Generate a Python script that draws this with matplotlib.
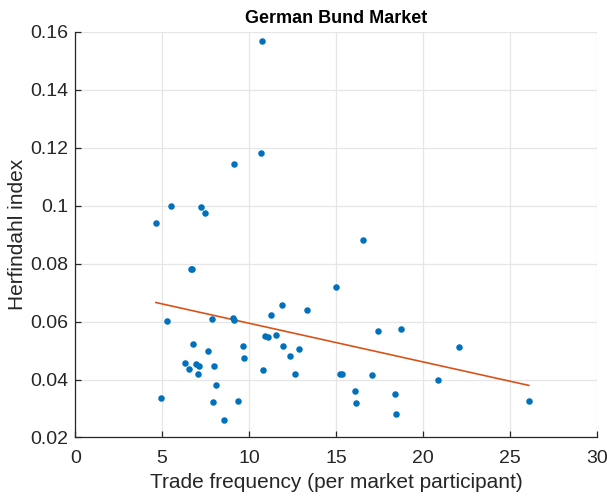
import matplotlib
matplotlib.use('Agg')
import matplotlib.pyplot as plt
import numpy as np

plt.rcParams['font.family'] = ['Liberation Sans', 'DejaVu Sans']

# trade frequency (per market participant) vs Herfindahl index
freq = [10.76, 10.69, 9.16, 5.52, 7.22, 7.45, 4.64, 6.66, 6.72,
        5.25, 7.89, 9.10, 9.15, 6.78, 7.61, 6.29, 6.52, 6.94, 7.13,
        7.07, 8.01, 8.11, 4.93, 7.93, 9.37, 8.54, 9.65, 9.71, 10.80,
        10.90, 11.09, 11.24, 11.53, 11.91, 11.97, 12.35, 12.64, 12.85,
        13.35, 14.99, 15.22, 15.36, 16.54, 17.42, 18.74, 22.05, 17.08,
        20.88, 16.10, 16.16, 18.42, 18.47, 26.10]
herf = [0.1567, 0.1182, 0.1143, 0.0999, 0.0994, 0.0976, 0.0939, 0.0781, 0.0781,
        0.0603, 0.0609, 0.0613, 0.0607, 0.0523, 0.0497, 0.0456, 0.0437, 0.0453, 0.0447,
        0.0420, 0.0447, 0.0382, 0.0337, 0.0323, 0.0327, 0.0261, 0.0516, 0.0474, 0.0434,
        0.0550, 0.0548, 0.0624, 0.0553, 0.0657, 0.0516, 0.0480, 0.0420, 0.0507,
        0.0640, 0.0720, 0.0418, 0.0420, 0.0883, 0.0569, 0.0573, 0.0513, 0.0417,
        0.0400, 0.0360, 0.0320, 0.0350, 0.0280, 0.0327]

fig = plt.figure(figsize=(6.07, 5.04), dpi=100)
ax = fig.add_axes([0.124, 0.132, 0.859, 0.805])

ax.scatter(freq, herf, s=22, color='#0072BD', zorder=3, linewidths=0)

# linear trend line
b, a = np.polyfit(freq, herf, 1)
xs = np.array([min(freq), max(freq)])
ax.plot(xs, a + b * xs, color='#D95319', lw=1.2, zorder=2)

ax.set_xlim(0, 30)
ax.set_ylim(0.02, 0.16)
ax.set_xticks(np.arange(0, 31, 5))
ax.set_yticks(np.arange(0.02, 0.161, 0.02))
ax.set_yticklabels(['0.02', '0.04', '0.06', '0.08', '0.1', '0.12', '0.14', '0.16'])

ax.grid(True, color='#e6e6e6', lw=0.9, zorder=0)
ax.set_axisbelow(True)
for s in ['top', 'right']:
    ax.spines[s].set_visible(False)
for s in ['left', 'bottom']:
    ax.spines[s].set_color('#262626')
    ax.spines[s].set_linewidth(0.9)
ax.tick_params(direction='in', length=4, width=0.9, colors='#262626', labelsize=14)
ax.tick_params(axis='x', pad=9)
ax.tick_params(axis='y', pad=5)

ax.set_xlabel('Trade frequency (per market participant)', fontsize=15, color='#262626', labelpad=4)
ax.set_ylabel('Herfindahl index', fontsize=15, color='#262626', labelpad=2)
ax.set_title('German Bund Market', fontsize=13, fontweight='bold', color='black', pad=6)

fig.savefig('out.png', dpi=100)
